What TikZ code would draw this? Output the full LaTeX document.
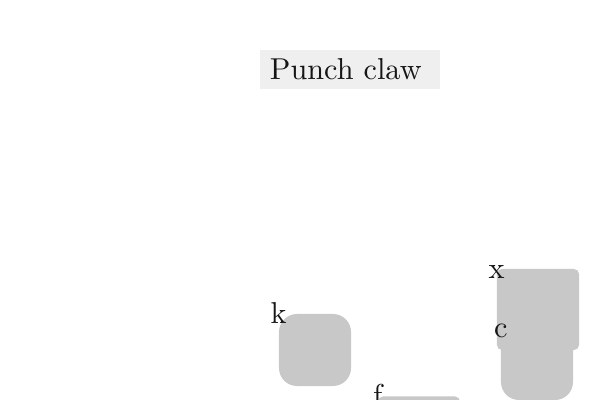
\documentclass[tikz,border=0pt]{standalone}
\usepackage{xcolor}
\definecolor{keygray}{HTML}{C8C8C8}
\definecolor{titlebg}{HTML}{EFEFEF}
\definecolor{inkgray}{HTML}{161616}
\newcommand{\bigtxt}[1]{\scalebox{2.15}{#1}}
\tikzset{
  softkey/.style={fill=keygray, minimum width=1.8cm, minimum height=1.8cm, rounded corners=0.45cm, inner sep=0pt},
  widekey/.style={fill=keygray, minimum width=2.05cm, minimum height=2.025cm, rounded corners=0.125cm, inner sep=0pt},
  keyname/.style={text=inkgray, inner sep=0pt, anchor=base, yshift=-0.24cm}
}
\begin{document}
\begin{tikzpicture}[x=0.025cm, y=-0.025cm]
      % \draw[help lines] (0,0) grid (600,400);
      \useasboundingbox (0,0) rectangle (600,400);
      \clip (0,0) rectangle (600,400);
      \node[fill=titlebg, text=inkgray, minimum height=0.975cm, text width=4cm, inner xsep=0.25cm, align=left] (title) at (350,69.5) {\bigtxt{Punch claw}};
      \node[softkey] (keyk) at (315,350) {};
      \node[softkey] (keyc) at (537,364) {};
      \node[widekey] (keyx) at (538,309.5) {};
      \node[widekey] (keyf) at (419,437) {};
      \node[keyname] (labk) at (keyk.north west) {\bigtxt{k}};
      \node[keyname] (labx) at (keyx.north west) {\bigtxt{x}};
      \node[keyname] (labc) at (keyc.north west) {\bigtxt{c}};
      \node[keyname] (labf) at (keyf.north west) {\bigtxt{f}};
\end{tikzpicture}
\end{document}
